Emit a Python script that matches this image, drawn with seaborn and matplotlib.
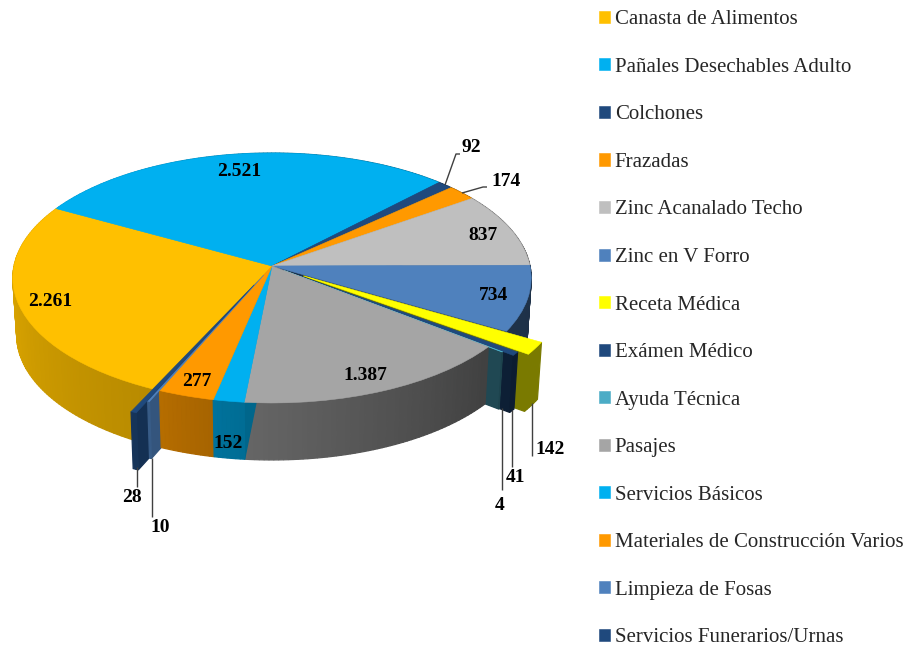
#!/usr/bin/env python3
# -*- coding: utf-8 -*-
import numpy as np
import seaborn as sns
import matplotlib
matplotlib.use('Agg')
import matplotlib.pyplot as plt
import matplotlib.colors as mcol
import matplotlib.transforms as mtr

categories = ['Canasta de Alimentos', 'Pañales Desechables Adulto', 'Colchones', 'Frazadas',
              'Zinc Acanalado Techo', 'Zinc en V Forro', 'Receta Médica', 'Exámen Médico',
              'Ayuda Técnica', 'Pasajes', 'Servicios Básicos',
              'Materiales de Construcción Varios', 'Limpieza de Fosas', 'Servicios Funerarios/Urnas']
values = [2261, 2521, 92, 174, 837, 734, 142, 41, 4, 1387, 152, 277, 10, 28]
explode = [0, 0, 0, 0, 0, 0, 0.145, 0.105, 0.06, 0, 0, 0, 0.08, 0.165]
colors = ['#FFC000', '#00B0F0', '#1F497D', '#FF9900', '#BFBFBF', '#4F81BD', '#FFFF00',
          '#1F497D', '#4BACC6', '#A5A5A5', '#00B0F0', '#FF9900', '#4F81BD', '#1F497D']

# label centres in pixels, same order as values
label_x = [50, 239, 471, 506, 483, 493, 550, 516, 500, 365, 228, 197, 160, 132]
label_y = [301, 171, 147, 181, 235, 295, 450, 478, 505, 376, 443, 381, 527, 498]

# leader lines, pixels
leaders = [([445, 456, 460], [185, 154, 154]),
           ([462, 483, 487], [193, 187, 187]),
           ([532, 532], [403, 456]),
           ([512, 512], [410, 467]),
           ([502, 502], [408, 490]),
           ([137, 137], [467, 487]),
           ([152, 152], [458, 517])]

CX, CY = 272, 266
RX, RY = 258, 123.8
PERSP = 0.096
DEPTH = 57
SERIF = 'Liberation Serif'


def project(u, v):
    w = 1 + PERSP * np.asarray(v)
    return CX + RX * np.asarray(u) / w, CY - RY * np.asarray(v) / w


class Persp(mtr.Transform):
    input_dims = 2
    output_dims = 2

    def transform_non_affine(self, xy):
        xy = np.asarray(xy)
        x, y = project(xy[:, 0], xy[:, 1])
        return np.column_stack([x, y])


def drop(x, y):
    # bottom of the wall, converges a little toward the centre
    return CX + (np.asarray(x) - CX) * 0.985, np.asarray(y) + DEPTH


def shade(col, deg):
    f = np.interp(deg % 360, [0, 150, 180, 245, 264, 322, 360],
                  [0.38, 0.9, 0.87, 0.72, 0.62, 0.39, 0.38])
    # the yellow slice is lighter on its side than the rest
    if col == '#FFFF00':
        f = 0.48
    return tuple(np.array(mcol.to_rgb(col)) * f)


def quad(ax, x, y, col, z):
    bx, by = drop(x, y)
    ax.fill(np.r_[x, bx[::-1]], np.r_[y, by[::-1]], color=col, lw=0.9, zorder=z)


sns.set_theme(style='white')
fig = plt.figure(figsize=(9.06, 6.46), dpi=100)
ax = fig.add_axes([0, 0, 1, 1])

wedges, _ = ax.pie(values, explode=explode, colors=colors, startangle=245, counterclock=False,
                   wedgeprops={'linewidth': 0.4, 'zorder': 5})
ax.set_aspect('auto')
ax.set_xlim(0, 906)
ax.set_ylim(646, 0)
ax.axis('off')

persp = Persp()
for w, col in zip(wedges, colors):
    w.set_transform(persp + ax.transData)
    w.set_edgecolor(col)

# walls, back to front
mids = [(w.theta1 + w.theta2) / 2 for w in wedges]
order = sorted(range(len(wedges)), key=lambda i: -abs(((mids[i] % 360) - 270)))
for z, i in enumerate(order):
    w = wedges[i]
    col = colors[i]
    cu, cv = w.center
    zz = 1 + z * 0.1
    for ang, sign in ((w.theta1, 1), (w.theta2, -1)):
        # theta1 side faces front on the right, theta2 side on the left
        rad = np.radians(ang)
        if (sign == 1 and np.cos(rad) > 0) or (sign == -1 and np.cos(rad) < 0):
            u = np.array([cu, cu + np.cos(rad)])
            v = np.array([cv, cv + np.sin(rad)])
            x, y = project(u, v)
            quad(ax, x, y, shade(col, ang - 8 if sign == 1 else ang + 10), zz)
    edges = np.linspace(w.theta1, w.theta2, int(w.theta2 - w.theta1) + 2)
    for a, b in zip(edges[:-1], edges[1:]):
        t = np.radians([a, b])
        x, y = project(cu + np.cos(t), cv + np.sin(t))
        quad(ax, x, y, shade(col, (a + b) / 2), zz + 0.01)

for lx, ly in leaders:
    ax.plot(lx, ly, color='#404040', lw=1, zorder=6, solid_capstyle='butt')

for v, x, y in zip(values, label_x, label_y):
    ax.text(x, y, f'{v:,}'.replace(',', '.'), ha='center', va='center', color='black',
            family=SERIF, weight='bold', fontsize=14, zorder=7)

leg = ax.legend(wedges, categories, loc='upper left', bbox_to_anchor=(593 / 906, 1 - 4 / 646),
                frameon=False, prop={'family': SERIF, 'size': 15}, labelcolor='#262626',
                handlelength=0.52, handleheight=0.52, handletextpad=0.22,
                labelspacing=1.37, borderpad=0.3, borderaxespad=0)

fig.savefig('out.png', dpi=100)
